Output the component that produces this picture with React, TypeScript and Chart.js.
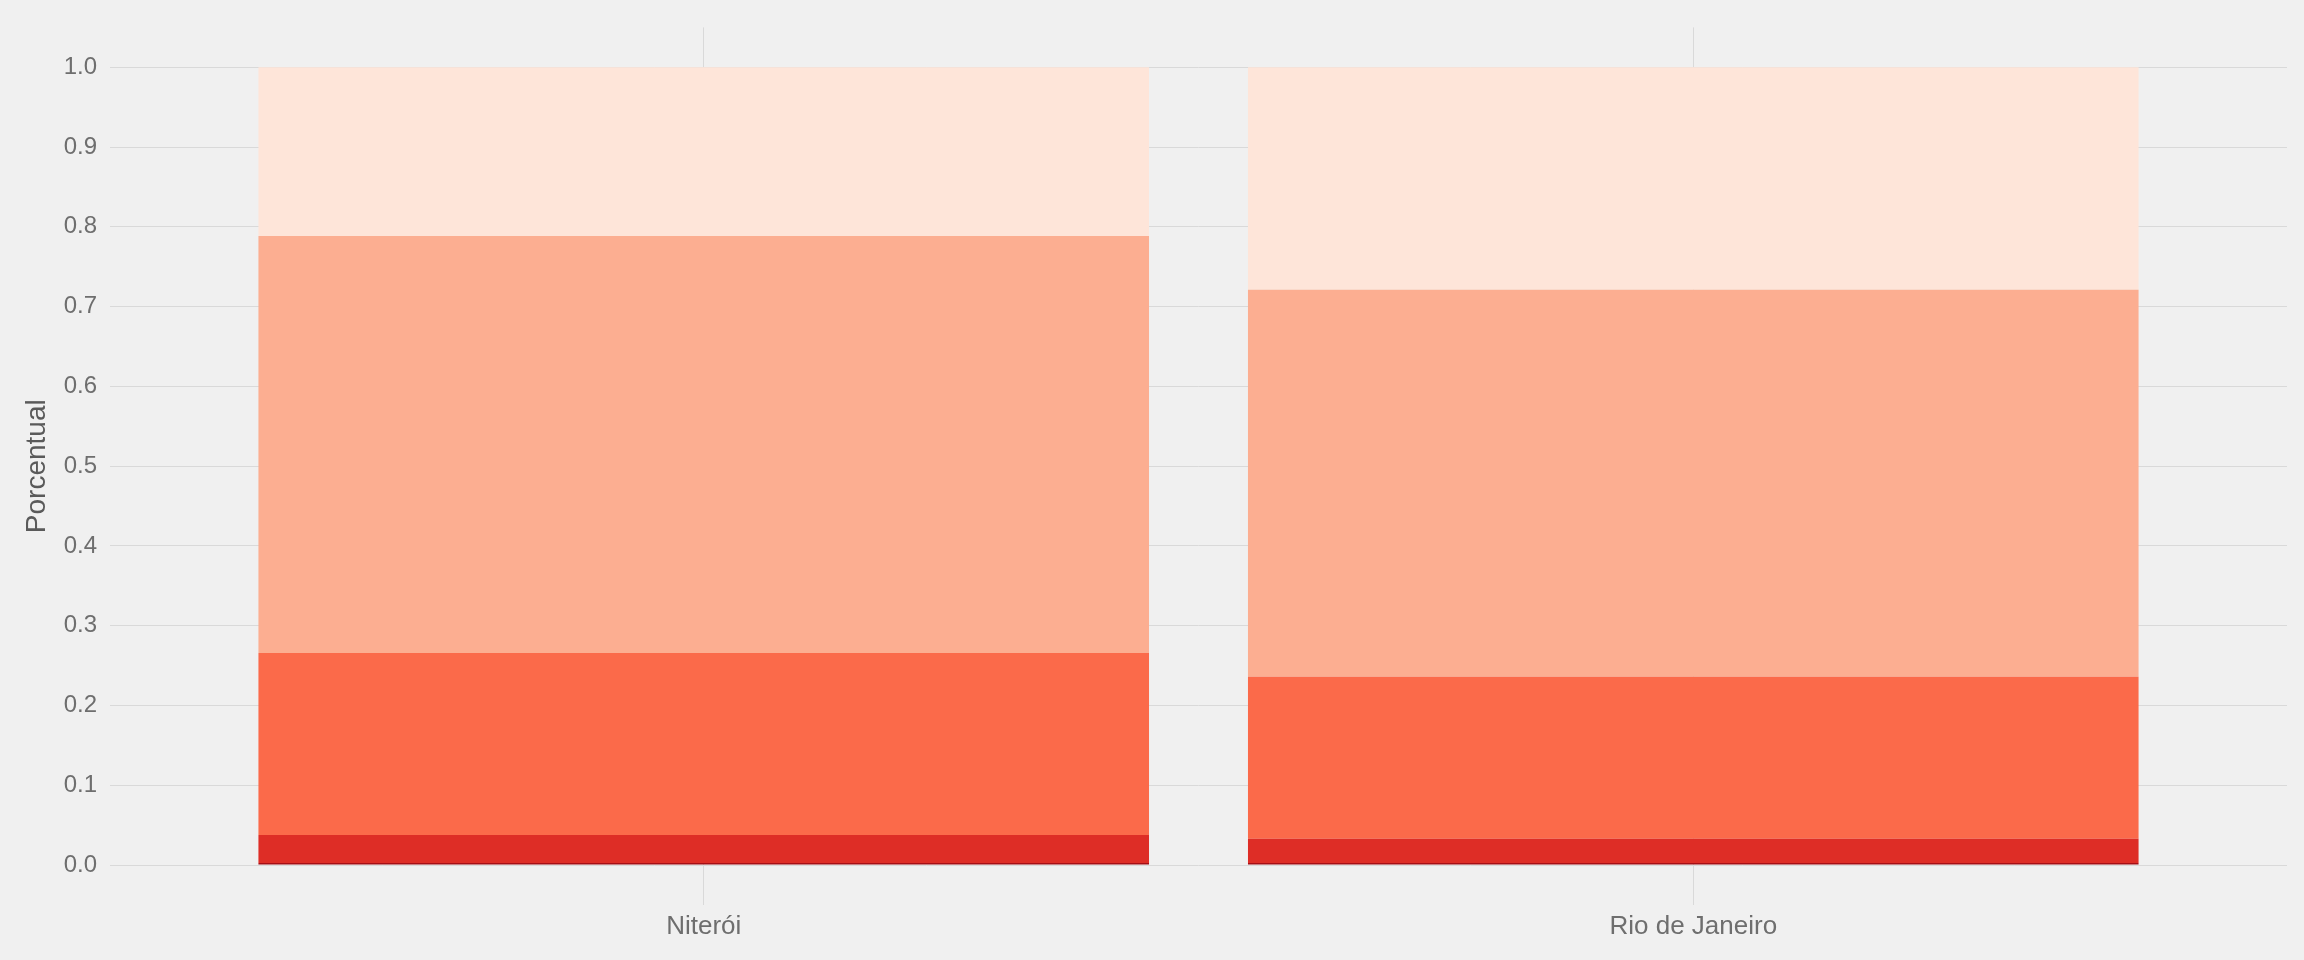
import React, { useEffect, useRef } from "react";
import { Chart, registerables } from "chart.js";

Chart.register(...registerables);

const categories = ["Niterói", "Rio de Janeiro"];
const seriesNames = ["Classe 5", "Classe 4", "Classe 3", "Classe 2", "Classe 1"];
const seriesColors = ["#A50F15", "#DE2D26", "#FB6A4A", "#FCAE91", "#FEE5D9"];
// values per series, bottom to top of stack: [Niterói, Rio de Janeiro]
const serie5 = [0.0025, 0.0025];
const serie4 = [0.0353, 0.0306];
const serie3 = [0.2282, 0.2031];
const serie2 = [0.5226, 0.4849];
const serie1 = [0.2114, 0.2789];
const seriesValues = [serie5, serie4, serie3, serie2, serie1];
const yTicks = [0, 0.1, 0.2, 0.3, 0.4, 0.5, 0.6, 0.7, 0.8, 0.9, 1.0];
const yTitle = "Porcentual";

const FONT = '"Liberation Sans", Arial, Helvetica, sans-serif';

export default function App() {
  const ref = useRef<HTMLCanvasElement | null>(null);

  useEffect(() => {
    document.body.style.margin = "0";
    document.body.style.background = "#F0F0F0";
    const canvas = ref.current;
    if (!canvas) return;
    const bg = {
      id: "bg",
      beforeDraw(chart: any) {
        const ctx = chart.ctx;
        ctx.save();
        ctx.fillStyle = "#F0F0F0";
        ctx.fillRect(0, 0, chart.width, chart.height);
        ctx.restore();
      },
    };
    const chart = new Chart(canvas, {
      type: "bar",
      data: {
        datasets: seriesNames.map((name, si) => ({
          label: name,
          data: categories.map((_, ci) => ({ x: ci + 1, y: seriesValues[si][ci] })),
          backgroundColor: seriesColors[si],
          borderWidth: 0,
          categoryPercentage: 0.9,
          barPercentage: 1.0,
        })),
      },
      options: {
        responsive: false,
        animation: false,
        devicePixelRatio: 1,
        layout: { padding: { left: 0, top: 26, right: 17, bottom: 0 } },
        plugins: {
          legend: { display: false },
          tooltip: { enabled: false },
        },
        scales: {
          x: {
            type: "linear",
            stacked: true,
            offset: false,
            min: 0.4,
            max: 2.6,
            afterBuildTicks: (scale: any) => {
              scale.ticks = categories.map((_, i) => ({ value: i + 1 }));
            },
            afterFit: (scale: any) => {
              scale.height = 55;
            },
            ticks: {
              callback: (v: any) => categories[Math.round(Number(v)) - 1] ?? "",
              color: "#6e6e6e",
              font: { family: FONT, size: 26 },
              padding: 6,
              autoSkip: false,
              maxRotation: 0,
            },
            grid: { color: "#d9d9d9", lineWidth: 1, drawTicks: false, offset: false },
            border: { display: false },
          },
          y: {
            stacked: true,
            min: -0.05,
            max: 1.05,
            afterBuildTicks: (scale: any) => {
              scale.ticks = yTicks.map((v) => ({ value: v }));
            },
            afterFit: (scale: any) => {
              scale.width = 110;
            },
            ticks: {
              callback: (v: any) => Number(v).toFixed(1),
              color: "#6e6e6e",
              font: { family: FONT, size: 24 },
              padding: 13,
            },
            grid: { color: "#d9d9d9", lineWidth: 1, drawTicks: false },
            border: { display: false },
            title: {
              display: true,
              text: yTitle,
              color: "#5a5a5a",
              font: { family: FONT, size: 28 },
              padding: { top: 20, bottom: 0 },
            },
          },
        },
      },
      plugins: [bg],
    });
    return () => chart.destroy();
  }, []);

  return (
    <canvas
      ref={ref}
      width={2304}
      height={960}
      style={{ display: "block", width: 2304, height: 960, background: "#F0F0F0" }}
    />
  );
}
